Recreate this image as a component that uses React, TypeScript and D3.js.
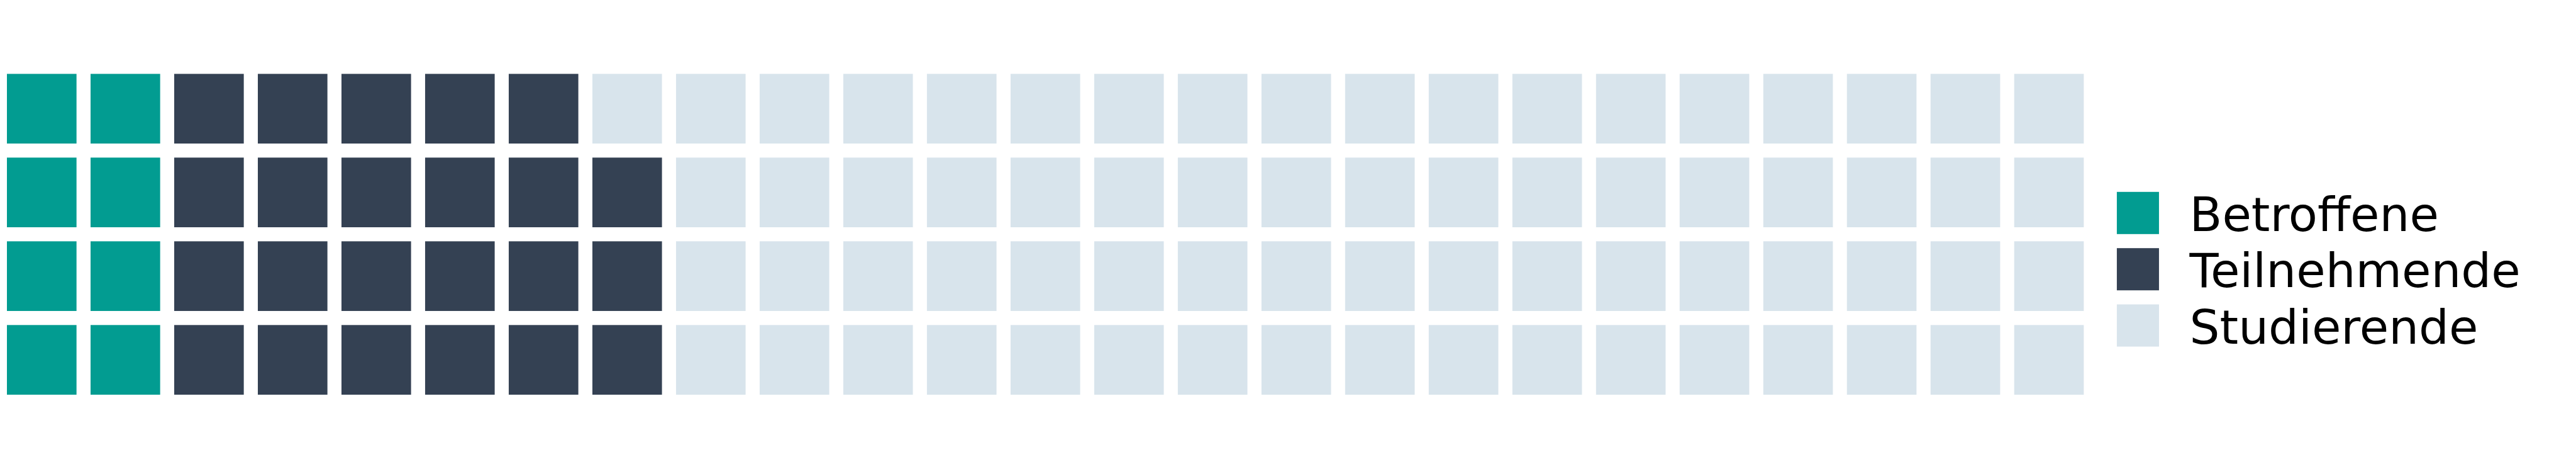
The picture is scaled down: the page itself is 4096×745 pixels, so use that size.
import React, { useEffect } from "react";
import * as d3 from "d3";

const categories = ["Betroffene", "Teilnehmende", "Studierende"];
const counts = [8, 23, 69];
const colors = ["#029C91", "#344153", "#D8E4EC"];
const nRows = 4;
const nCols = 25;

const W = 7700;
const H = 1400;
const S = 4096 / 7700;

export default function App() {
  useEffect(() => {
    document.body.style.margin = "0";
    document.body.style.overflow = "hidden";
  }, []);

  // assign cells column-major, bottom to top
  const cells: { col: number; row: number; cat: number }[] = [];
  let idx = 0;
  counts.forEach((c, ci) => {
    for (let k = 0; k < c; k++) {
      const col = Math.floor(idx / nRows);
      const rowFromBottom = idx % nRows;
      cells.push({ col, row: nRows - 1 - rowFromBottom, cat: ci });
      idx++;
    }
  });

  const x = d3
    .scaleBand<number>()
    .domain(d3.range(nCols))
    .range([20.7, 6228.7])
    .paddingInner(0.168)
    .paddingOuter(0);
  const y = d3
    .scaleBand<number>()
    .domain(d3.range(nRows))
    .range([220.6, 1178.6])
    .paddingInner(0.168)
    .paddingOuter(0);

  const legY = d3
    .scaleBand<number>()
    .domain(d3.range(categories.length))
    .range([573, 1035])
    .paddingInner(0.25)
    .paddingOuter(0);

  return (
    <svg
      width={4096}
      height={745}
      style={{ display: "block", position: "absolute", left: 0, top: 0 }}
    >
      <rect width={4096} height={745} fill="#ffffff" />
      <g transform={`scale(${S})`}>
        {cells.map((c, i) => (
          <rect
            key={i}
            x={x(c.col)}
            y={y(c.row)}
            width={x.bandwidth()}
            height={y.bandwidth()}
            fill={colors[c.cat]}
          />
        ))}
        {categories.map((name, i) => (
          <g key={name}>
            <rect
              x={6327.5}
              y={legY(i)}
              width={legY.bandwidth()}
              height={legY.bandwidth()}
              fill={colors[i]}
            />
            <text
              x={6545}
              y={(legY(i) as number) + 117}
              fontFamily="DejaVu Sans"
              fontSize={142}
              fill="#000000"
            >
              {name}
            </text>
          </g>
        ))}
      </g>
    </svg>
  );
}
